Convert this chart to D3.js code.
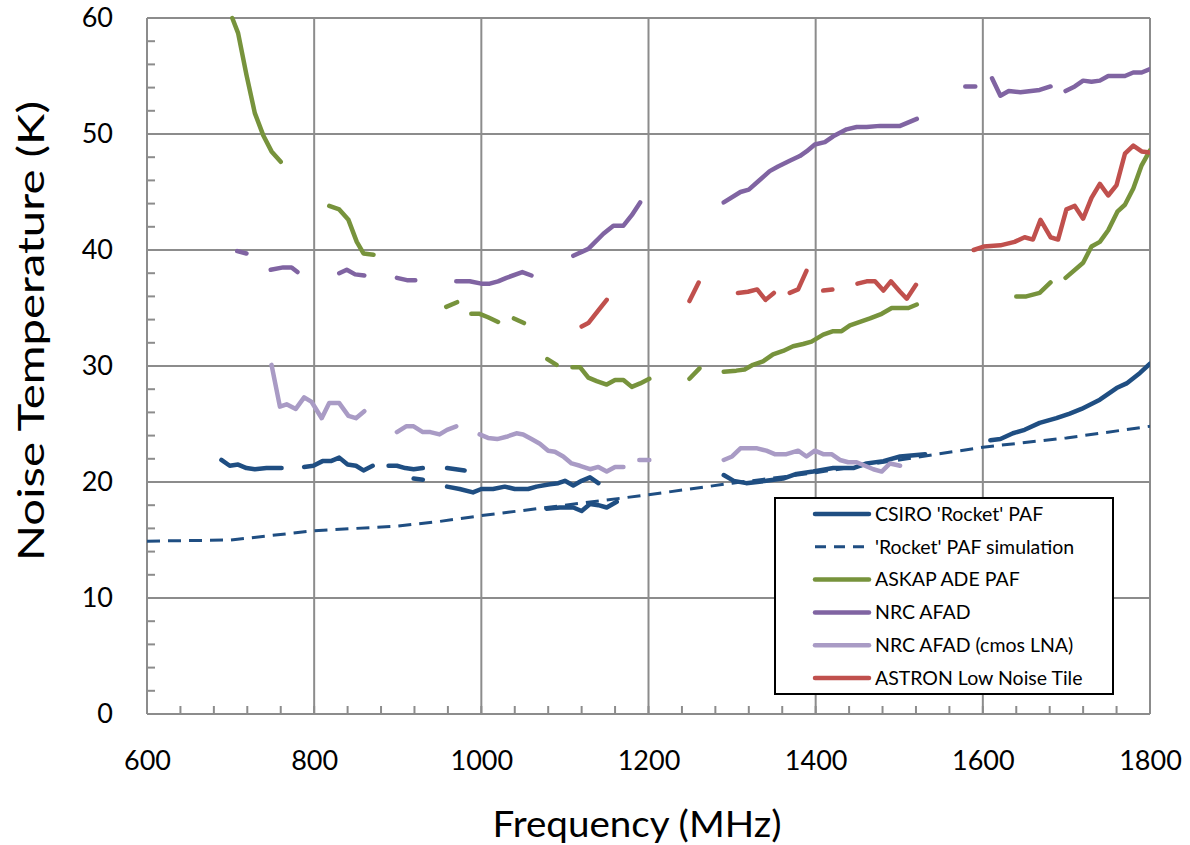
<!DOCTYPE html>
<html>
<head>
<meta charset="utf-8" />
<title>Noise Temperature</title>
<script src="https://cdn.jsdelivr.net/npm/d3@7"></script>
<style>
html, body { margin:0; padding:0; background:#fff; }
svg { display:block; font-family: Lato, "Open Sans", sans-serif; }
</style>
</head>
<body>
<script>
var csiro = [
 [689,21.9],[699,21.4],[709,21.5],[719,21.2],[729,21.1],[743,21.2],[761,21.2], null,
 [788,21.3],[799,21.4],[810,21.8],[820,21.8],[830,22.1],[840,21.5],[850,21.4],[859,21.0],[870,21.4], null,
 [889,21.4],[899,21.4],[909,21.2],[919,21.1],[930,21.2], null,
 [919,20.3],[930,20.2], null,
 [959,21.2],[980,21.0], null,
 [959,19.6],[974,19.4],[990,19.1],[1000,19.4],[1014,19.4],[1028,19.6],[1040,19.4],[1056,19.4],[1066,19.6],[1082,19.8],[1092,19.9],[1100,20.1],[1110,19.7],[1120,20.1],[1130,20.4],[1140,19.9], null,
 [1078,17.7],[1094,17.8],[1110,17.8],[1120,17.5],[1130,18.1],[1140,18.0],[1150,17.8],[1162,18.3], null,
 [1290,20.6],[1302,20.1],[1317,19.9],[1341,20.1],[1361,20.3],[1377,20.7],[1397,20.9],[1421,21.2],[1445,21.2],[1461,21.6],[1481,21.8],[1501,22.2],[1531,22.4], null,
 [1609,23.6],[1621,23.7],[1636,24.2],[1650,24.5],[1668,25.1],[1688,25.5],[1704,25.9],[1718,26.3],[1740,27.1],[1760,28.1],[1772,28.5],[1788,29.4],[1800,30.2]
];
var rocketSim = [
 [600,14.9],[700,15.0],[750,15.4],[800,15.8],[900,16.2],[950,16.6],[1000,17.1],[1100,18.0],[1200,18.9],
 [1300,19.9],[1400,20.8],[1500,21.9],[1600,23.0],[1700,23.8],[1800,24.8]
];
var askap = [
 [702,60.0],[709,58.7],[719,55.1],[729,51.8],[739,49.9],[749,48.5],[760,47.6], null,
 [818,43.8],[830,43.5],[841,42.6],[851,40.7],[859,39.7],[871,39.6], null,
 [958,35.1],[971,35.5], null,
 [988,34.5],[998,34.5],[1008,34.2],[1020,33.8], null,
 [1039,34.1],[1051,33.7], null,
 [1079,30.6],[1090,30.1], null,
 [1109,29.9],[1118,29.9],[1128,29.0],[1138,28.7],[1150,28.4],[1160,28.8],[1170,28.8],[1180,28.2],[1190,28.5],[1201,28.9], null,
 [1249,28.9],[1261,29.8], null,
 [1290,29.5],[1305,29.6],[1315,29.7],[1325,30.1],[1337,30.4],[1349,31.0],[1361,31.3],[1373,31.7],[1385,31.9],[1395,32.1],[1409,32.7],[1421,33.0],[1431,33.0],[1441,33.5],[1453,33.8],[1465,34.1],[1479,34.5],[1491,35.0],[1501,35.0],[1511,35.0],[1521,35.3], null,
 [1640,36.0],[1652,36.0],[1668,36.3],[1681,37.2], null,
 [1699,37.6],[1720,38.9],[1730,40.3],[1740,40.7],[1750,41.7],[1761,43.3],[1770,43.9],[1780,45.3],[1790,47.3],[1800,48.6]
];
var nrcAfad = [
 [708,39.9],[719,39.7], null,
 [748,38.3],[763,38.5],[773,38.5],[780,38.1], null,
 [830,38.0],[839,38.3],[849,37.9],[860,37.8], null,
 [899,37.6],[911,37.4],[921,37.4], null,
 [970,37.3],[986,37.3],[1000,37.1],[1010,37.1],[1020,37.3],[1030,37.6],[1049,38.1],[1060,37.8], null,
 [1110,39.5],[1128,40.1],[1146,41.4],[1158,42.1],[1170,42.1],[1180,43.0],[1190,44.1], null,
 [1290,44.1],[1310,45.0],[1320,45.2],[1331,45.9],[1345,46.8],[1355,47.2],[1369,47.7],[1381,48.1],[1389,48.5],[1399,49.1],[1411,49.3],[1421,49.8],[1437,50.4],[1449,50.6],[1461,50.6],[1477,50.7],[1489,50.7],[1501,50.7],[1511,51.0],[1521,51.3], null,
 [1579,54.1],[1591,54.1], null,
 [1611,54.8],[1621,53.3],[1631,53.7],[1645,53.6],[1668,53.8],[1681,54.1], null,
 [1699,53.7],[1710,54.1],[1720,54.6],[1730,54.5],[1740,54.6],[1750,55.0],[1770,55.0],[1780,55.3],[1790,55.3],[1800,55.6]
];
var nrcCmos = [
 [749,30.1],[759,26.5],[767,26.7],[778,26.3],[788,27.3],[797,26.9],[809,25.5],[818,26.8],[830,26.8],[841,25.7],[850,25.5],[860,26.1], null,
 [899,24.3],[910,24.8],[919,24.8],[930,24.3],[939,24.3],[950,24.1],[959,24.5],[970,24.8], null,
 [998,24.1],[1008,23.8],[1019,23.7],[1030,23.9],[1042,24.2],[1050,24.1],[1060,23.7],[1070,23.3],[1080,22.7],[1088,22.6],[1098,22.2],[1108,21.6],[1118,21.4],[1130,21.1],[1140,21.3],[1150,20.9],[1160,21.3],[1170,21.3], null,
 [1189,21.9],[1201,21.9], null,
 [1290,21.9],[1300,22.2],[1310,22.9],[1322,22.9],[1330,22.9],[1341,22.7],[1351,22.4],[1365,22.4],[1379,22.7],[1389,22.2],[1399,22.7],[1409,22.4],[1419,22.4],[1429,21.9],[1439,21.7],[1449,21.7],[1459,21.4],[1469,21.1],[1479,20.9],[1489,21.6],[1501,21.4]
];
var astron = [
 [1120,33.4],[1128,33.7],[1140,34.8],[1150,35.7], null,
 [1249,35.6],[1260,37.2], null,
 [1307,36.3],[1319,36.4],[1330,36.6],[1340,35.7],[1350,36.3], null,
 [1369,36.3],[1379,36.6],[1389,38.2], null,
 [1409,36.5],[1420,36.6], null,
 [1450,37.1],[1461,37.3],[1471,37.3],[1481,36.5],[1490,37.3],[1501,36.4],[1509,35.8],[1520,37.0], null,
 [1589,40.0],[1601,40.3],[1621,40.4],[1638,40.7],[1650,41.1],[1660,40.9],[1669,42.6],[1681,41.1],[1690,40.9],[1700,43.5],[1710,43.8],[1720,42.7],[1730,44.5],[1740,45.7],[1750,44.7],[1760,45.6],[1770,48.3],[1780,49.0],[1790,48.5],[1800,48.4]
];

var seriesNames = ["CSIRO 'Rocket' PAF", "'Rocket' PAF simulation", "ASKAP ADE PAF", "NRC AFAD", "NRC AFAD (cmos LNA)", "ASTRON Low Noise Tile"];
var seriesData = [csiro, rocketSim, askap, nrcAfad, nrcCmos, astron];
var seriesColors = ["#1f4e82", "#1f4e82", "#77933c", "#8064a2", "#a99bc5", "#c0504d"];
var seriesDashed = [false, true, false, false, false, false];

var xTicks = [600, 800, 1000, 1200, 1400, 1600, 1800];
var yTicks = [0, 10, 20, 30, 40, 50, 60];

var W = 1190, H = 845;
var pL = 147, pR = 1150, pT = 18, pB = 714;

var svg = d3.select("body").append("svg").attr("width", W).attr("height", H);

var x = d3.scaleLinear().domain([600, 1800]).range([pL, pR]);
var y = d3.scaleLinear().domain([0, 60]).range([pB, pT]);

var gridCol = "#8c8c8c";

// major grid
svg.append("g").selectAll("line").data(xTicks).join("line")
  .attr("x1", d => x(d)).attr("x2", d => x(d))
  .attr("y1", pT).attr("y2", pB)
  .attr("stroke", gridCol).attr("stroke-width", 2);
svg.append("g").selectAll("line").data(yTicks).join("line")
  .attr("x1", pL).attr("x2", pR)
  .attr("y1", d => y(d)).attr("y2", d => y(d))
  .attr("stroke", gridCol).attr("stroke-width", 2);

// minor ticks (inside)
svg.append("g").selectAll("line").data(d3.range(600, 1801, 40)).join("line")
  .attr("x1", d => x(d)).attr("x2", d => x(d))
  .attr("y1", pB).attr("y2", pB - 8)
  .attr("stroke", gridCol).attr("stroke-width", 2);
svg.append("g").selectAll("line").data(d3.range(0, 61, 2)).join("line")
  .attr("x1", pL).attr("x2", pL + 8)
  .attr("y1", d => y(d)).attr("y2", d => y(d))
  .attr("stroke", gridCol).attr("stroke-width", 2);

// tick labels through d3 axes
var xAxis = svg.append("g").attr("transform", "translate(0," + pB + ")")
  .call(d3.axisBottom(x).tickValues(xTicks).tickSize(0).tickPadding(56).tickFormat(d3.format("d")));
var yAxis = svg.append("g").attr("transform", "translate(" + pL + ",0)")
  .call(d3.axisLeft(y).tickValues(yTicks).tickSize(0).tickPadding(34).tickFormat(d3.format("d")));
[xAxis, yAxis].forEach(function(g){
  g.select(".domain").remove();
  g.selectAll("text").attr("font-size", 27).attr("fill", "#000").attr("font-family", "Lato, sans-serif");
});
xAxis.selectAll("text").attr("dy", "0");

// axis titles
svg.append("text").attr("x", 637).attr("y", 837)
  .attr("text-anchor", "middle").attr("font-size", 36)
  .attr("textLength", 289).attr("lengthAdjust", "spacingAndGlyphs")
  .text("Frequency (MHz)");
svg.append("text").attr("transform", "translate(44,331) rotate(-90)")
  .attr("text-anchor", "middle").attr("font-size", 36)
  .attr("textLength", 460).attr("lengthAdjust", "spacingAndGlyphs")
  .text("Noise Temperature (K)");

// series
var line = d3.line().defined(d => d != null).x(d => x(d[0])).y(d => y(d[1]));
var plot = svg.append("g");
plot.append("clipPath").attr("id", "clip").append("rect")
  .attr("x", pL).attr("y", pT - 3).attr("width", pR - pL).attr("height", pB - pT + 3);
seriesData.forEach(function(data, i){
  plot.append("path").datum(data)
    .attr("d", line)
    .attr("clip-path", "url(#clip)")
    .attr("fill", "none")
    .attr("stroke", seriesColors[i])
    .attr("stroke-width", seriesDashed[i] ? 3 : 4.5)
    .attr("stroke-dasharray", seriesDashed[i] ? "13,8" : null)
    .attr("stroke-linecap", seriesDashed[i] ? "butt" : "round")
    .attr("stroke-linejoin", "round");
});

// legend
var lg = svg.append("g");
lg.append("rect").attr("x", 775).attr("y", 498).attr("width", 338).attr("height", 196)
  .attr("fill", "#fff").attr("stroke", "#000").attr("stroke-width", 2);
seriesNames.forEach(function(name, i){
  var yy = 514 + i * 32.8;
  lg.append("line").attr("x1", 815).attr("x2", 869).attr("y1", yy).attr("y2", yy)
    .attr("stroke", seriesColors[i])
    .attr("stroke-width", seriesDashed[i] ? 3 : 4.5)
    .attr("stroke-dasharray", seriesDashed[i] ? "11,8" : null)
    .attr("stroke-linecap", seriesDashed[i] ? "butt" : "round");
  lg.append("text").attr("x", 875).attr("y", yy).attr("dy", "0.35em")
    .attr("font-size", 19.5).attr("fill", "#000").text(name);
});
</script>
</body>
</html>
